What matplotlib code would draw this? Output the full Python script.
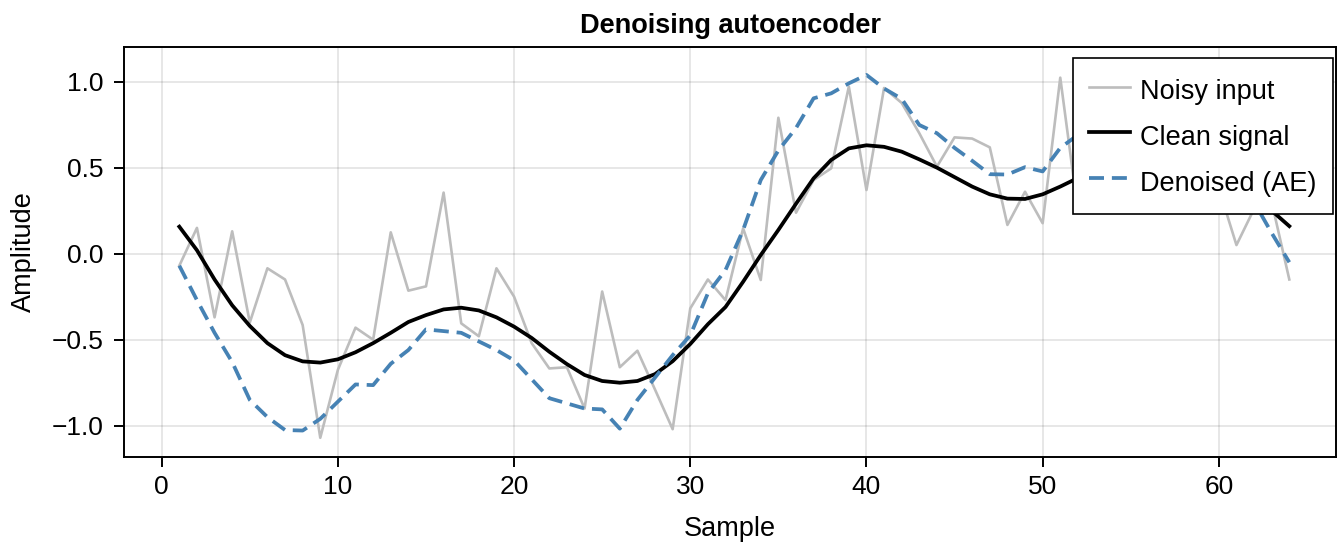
import numpy as np
import matplotlib
matplotlib.use("Agg")
import matplotlib.pyplot as plt

# samples 1..64
sample = np.arange(1, 65)

noisy = [-0.07, 0.15, -0.37, 0.13, -0.40, -0.085, -0.15, -0.415, -1.07, -0.675,
         -0.43, -0.50, 0.124, -0.215, -0.19, 0.355, -0.405, -0.48, -0.085, -0.25,
         -0.52, -0.667, -0.66, -0.90, -0.22, -0.66, -0.564, -0.79, -1.02, -0.318,
         -0.15, -0.27, 0.147, -0.153, 0.79, 0.238, 0.428, 0.496, 0.971, 0.37,
         0.963, 0.876, 0.70, 0.506, 0.676, 0.669, 0.618, 0.167, 0.36, 0.177,
         1.023, 0.25, 0.55, 0.75, 0.45, 0.80, 0.62, 0.40, 0.70, 0.38,
         0.05, 0.26, 0.30, -0.15]

clean = [0.157, 0.02, -0.15, -0.30, -0.42, -0.52, -0.59, -0.626, -0.633, -0.614,
         -0.573, -0.52, -0.46, -0.397, -0.357, -0.324, -0.314, -0.33, -0.37, -0.424,
         -0.49, -0.57, -0.642, -0.705, -0.74, -0.75, -0.74, -0.70, -0.625, -0.525,
         -0.41, -0.31, -0.163, -0.008, 0.138, 0.29, 0.438, 0.545, 0.612, 0.63,
         0.621, 0.593, 0.548, 0.50, 0.445, 0.39, 0.345, 0.32, 0.318, 0.345,
         0.39, 0.44, 0.50, 0.555, 0.60, 0.625, 0.625, 0.60, 0.555, 0.49,
         0.42, 0.34, 0.25, 0.16]

denoised = [-0.07, -0.27, -0.46, -0.63, -0.85, -0.95, -1.025, -1.028, -0.96, -0.86,
            -0.76, -0.764, -0.64, -0.56, -0.44, -0.45, -0.46, -0.51, -0.56, -0.62,
            -0.73, -0.84, -0.87, -0.90, -0.905, -1.017, -0.85, -0.72, -0.59, -0.475,
            -0.23, -0.095, 0.138, 0.428, 0.60, 0.73, 0.903, 0.932, 0.99, 1.039,
            0.96, 0.90, 0.748, 0.70, 0.615, 0.54, 0.462, 0.46, 0.503, 0.478,
            0.615, 0.69, 0.76, 0.80, 0.83, 0.84, 0.82, 0.77, 0.70, 0.60,
            0.47, 0.30, 0.12, -0.05]

plt.rcParams['font.family'] = ['Liberation Sans', 'DejaVu Sans']
plt.rcParams['font.size'] = 19

fig = plt.figure(figsize=(13.37, 5.44), dpi=100)
ax = fig.add_axes([124 / 1337, 87.3 / 544, 1212 / 1337, 410 / 544])

ax.plot(sample, noisy, color='#bdbdbd', lw=1.9, label='Noisy input')
ax.plot(sample, clean, color='black', lw=2.7, label='Clean signal')
ax.plot(sample, denoised, color='#4682b4', lw=2.7, dashes=(4.0, 2.1), label='Denoised (AE)')

ax.set_xlim(-2.14, 66.65)
ax.set_ylim(-1.18, 1.203)
ax.set_xticks([0, 10, 20, 30, 40, 50, 60])
ax.set_yticks([-1.0, -0.5, 0.0, 0.5, 1.0])
ax.set_yticklabels(['\u22121.0', '\u22120.5', '0.0', '0.5', '1.0'])

ax.grid(True, color='black', alpha=0.12, lw=1.1)
ax.set_axisbelow(True)
for s in ax.spines.values():
    s.set_linewidth(1.4)
ax.tick_params(direction='out', length=7.5, width=1.4, labelsize=19)
ax.tick_params(axis='x', pad=6)
ax.tick_params(axis='y', pad=7)

ax.set_title('Denoising autoencoder', fontsize=19.5, fontweight='bold', pad=10)
ax.set_xlabel('Sample', fontsize=19.5, labelpad=12)
ax.set_ylabel('Amplitude', fontsize=19.5, labelpad=10.5)

leg = ax.legend(loc='upper right', bbox_to_anchor=(1333 / 1337, 1 - 58 / 544),
                bbox_transform=fig.transFigure, borderaxespad=0, fontsize=19.5,
                frameon=True, fancybox=False, framealpha=1, edgecolor='black',
                handlelength=1.5, handleheight=1.45, handletextpad=0.4,
                labelspacing=0.5, borderpad=0.6)
leg.get_frame().set_linewidth(1.2)

fig.savefig('out.png', dpi=100)
